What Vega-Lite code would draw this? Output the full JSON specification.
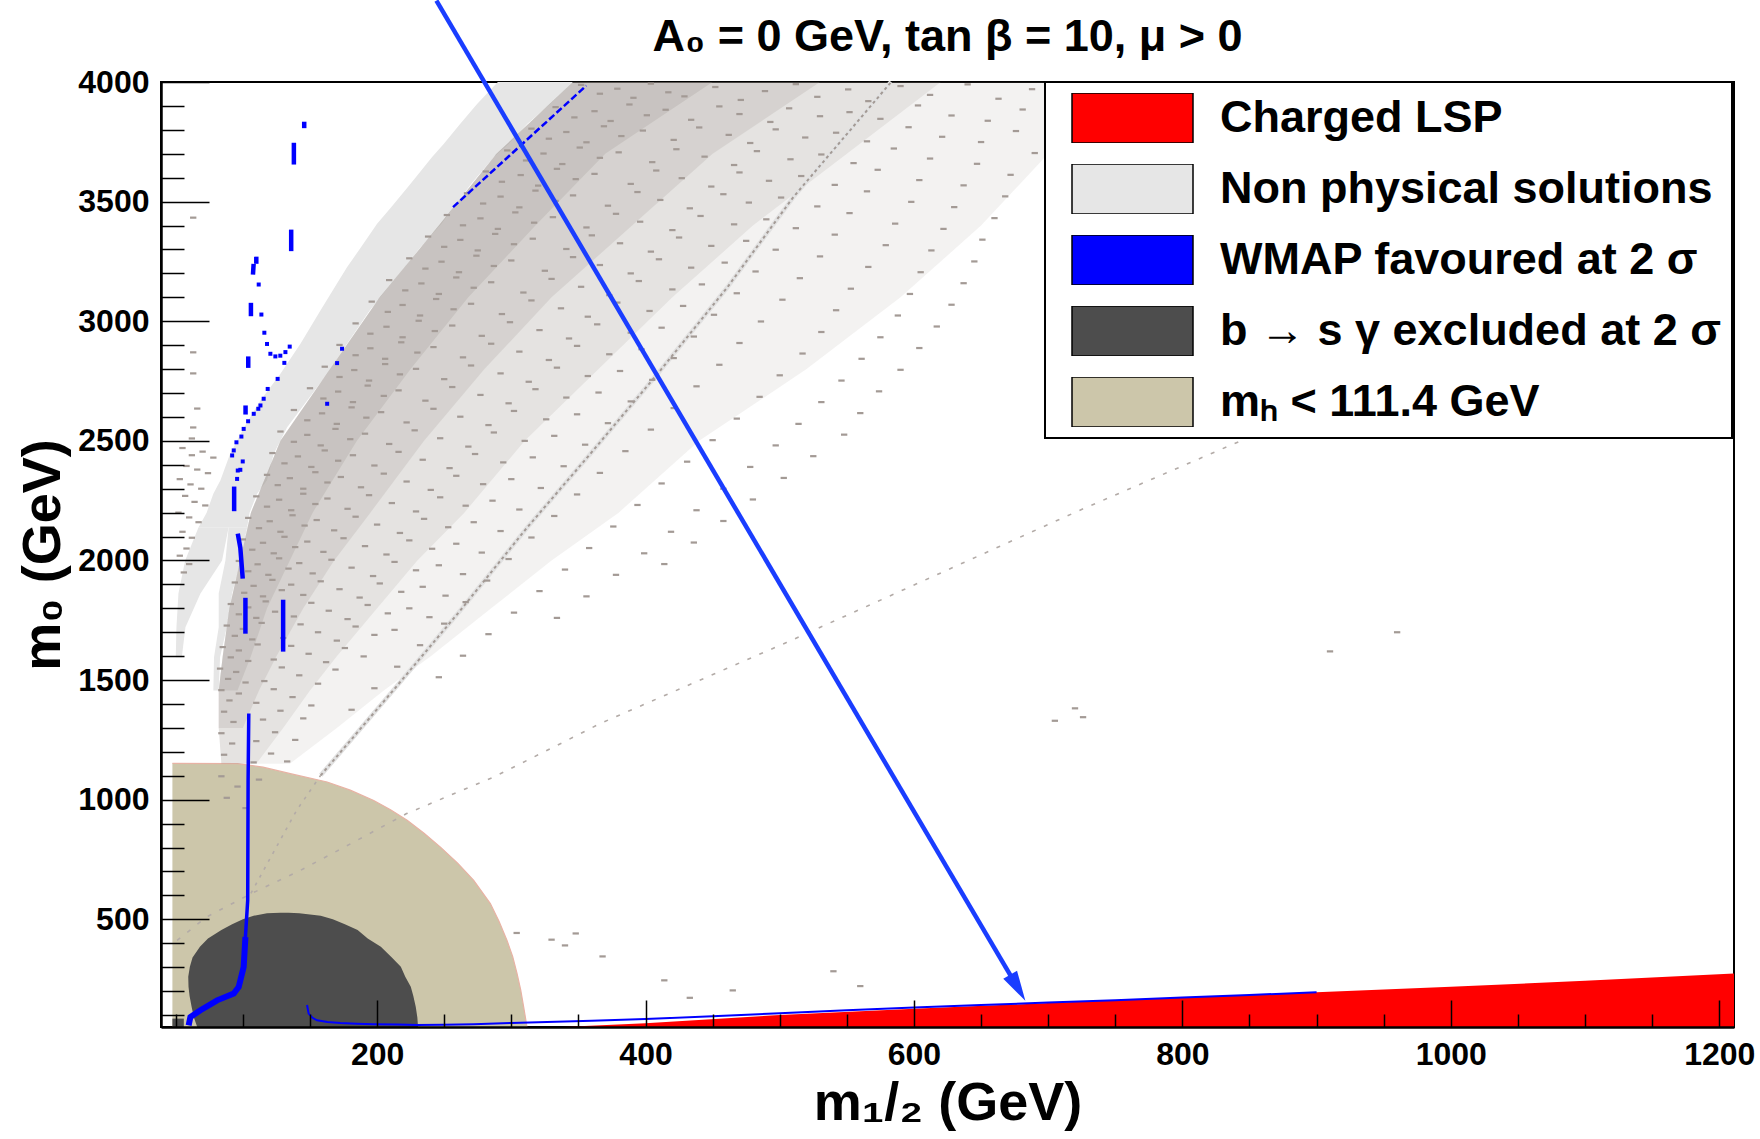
{
  "$schema": "https://vega.github.io/schema/vega-lite/v6.json",
  "width": 1573,
  "height": 945,
  "autosize": {"type": "none"},
  "padding": {"left": 161, "top": 82, "right": 26, "bottom": 112},
  "background": "white",
  "title": {
    "text": "A₀ = 0 GeV, tan β = 10, μ > 0",
    "font": "Liberation Sans",
    "fontSize": 45,
    "fontWeight": "bold",
    "color": "black",
    "anchor": "middle",
    "frame": "group",
    "baseline": "alphabetic",
    "offset": -104
  },
  "config": {
    "view": {"stroke": "black", "strokeWidth": 2},
    "axis": {"grid": false},
    "legend": {"strokeColor": "black", "strokeWidth": 2, "fillColor": "white"}
  },
  "datasets": {
    "higgs": [
      {"m12": 47.5, "m0": 1152}, {"m12": 96, "m0": 1151}, {"m12": 115, "m0": 1136}, {"m12": 135.4, "m0": 1109},
      {"m12": 162.8, "m0": 1074}, {"m12": 180, "m0": 1040}, {"m12": 197.5, "m0": 997}, {"m12": 210, "m0": 958},
      {"m12": 222.4, "m0": 914}, {"m12": 235, "m0": 860}, {"m12": 247.2, "m0": 802}, {"m12": 260, "m0": 735},
      {"m12": 272, "m0": 663}, {"m12": 284.4, "m0": 566}, {"m12": 291, "m0": 490}, {"m12": 296.8, "m0": 412},
      {"m12": 301, "m0": 345}, {"m12": 304.3, "m0": 273}, {"m12": 307, "m0": 205}, {"m12": 309.2, "m0": 134},
      {"m12": 311.7, "m0": 50}
    ],
    "bsg": [
      {"part": "main", "m0": 50, "m12": 66, "m12b": 230.5}, {"part": "main", "m0": 90, "m12": 63.5, "m12b": 230},
      {"part": "main", "m0": 135, "m12": 61.8, "m12b": 228.8}, {"part": "main", "m0": 180, "m12": 60.3, "m12b": 227},
      {"part": "main", "m0": 218, "m12": 59.5, "m12b": 225.1}, {"part": "main", "m0": 260, "m12": 59.3, "m12b": 221},
      {"part": "main", "m0": 302, "m12": 60.5, "m12b": 217.7}, {"part": "main", "m0": 340, "m12": 62.5, "m12b": 211},
      {"part": "main", "m0": 385, "m12": 68, "m12b": 202.8}, {"part": "main", "m0": 420, "m12": 74, "m12b": 193},
      {"part": "main", "m0": 455, "m12": 84, "m12b": 185.5}, {"part": "main", "m0": 480, "m12": 92, "m12b": 176},
      {"part": "main", "m0": 500, "m12": 100, "m12b": 167}, {"part": "main", "m0": 515, "m12": 108, "m12b": 158},
      {"part": "main", "m0": 525, "m12": 118, "m12b": 142}, {"part": "main", "m0": 528, "m12": 128, "m12b": 134},
      {"part": "corner", "m0": 50, "m12": 47.5, "m12b": 56}, {"part": "corner", "m0": 85, "m12": 47.5, "m12b": 56}
    ],
    "nonphys": [
      {"part": "main", "m0": 2139, "m12": 67, "m12b": 103.2}, {"part": "main", "m0": 2200, "m12": 73, "m12b": 105},
      {"part": "main", "m0": 2279, "m12": 78, "m12b": 110.6}, {"part": "main", "m0": 2335, "m12": 83.3, "m12b": 118},
      {"part": "main", "m0": 2446, "m12": 90.5, "m12b": 123}, {"part": "main", "m0": 2557, "m12": 101, "m12b": 133},
      {"part": "main", "m0": 2669, "m12": 113.1, "m12b": 147.9}, {"part": "main", "m0": 2780, "m12": 128, "m12b": 162.8},
      {"part": "main", "m0": 2906, "m12": 142.9, "m12b": 177.6}, {"part": "main", "m0": 3045, "m12": 157.8, "m12b": 194.5},
      {"part": "main", "m0": 3170, "m12": 171.5, "m12b": 212.4}, {"part": "main", "m0": 3226, "m12": 177.6, "m12b": 220.5},
      {"part": "main", "m0": 3309, "m12": 188, "m12b": 232.3}, {"part": "main", "m0": 3407, "m12": 200, "m12b": 248},
      {"part": "main", "m0": 3476, "m12": 210.5, "m12b": 257}, {"part": "main", "m0": 3574, "m12": 224.8, "m12b": 270},
      {"part": "main", "m0": 3686, "m12": 241, "m12b": 287}, {"part": "main", "m0": 3741, "m12": 249.6, "m12b": 298},
      {"part": "main", "m0": 3825, "m12": 262, "m12b": 312}, {"part": "main", "m0": 3908, "m12": 274.5, "m12b": 329},
      {"part": "main", "m0": 4000, "m12": 290, "m12b": 346},
      {"part": "left", "m0": 1596, "m12": 50, "m12b": 54.5}, {"part": "left", "m0": 1721, "m12": 50.5, "m12b": 57.2},
      {"part": "left", "m0": 1862, "m12": 52, "m12b": 68.4}, {"part": "left", "m0": 2000, "m12": 57, "m12b": 84.5},
      {"part": "left", "m0": 2139, "m12": 67, "m12b": 89.4},
      {"part": "right", "m0": 1457, "m12": 78, "m12b": 82}, {"part": "right", "m0": 1596, "m12": 78.5, "m12b": 83},
      {"part": "right", "m0": 1721, "m12": 82, "m12b": 88}, {"part": "right", "m0": 1862, "m12": 82, "m12b": 92},
      {"part": "right", "m0": 2000, "m12": 87, "m12b": 98.2}, {"part": "right", "m0": 2139, "m12": 89.4, "m12b": 103.2}
    ],
    "lsp": [
      {"m12": 338, "m0": 50}, {"m12": 400, "m0": 66}, {"m12": 500, "m0": 100}, {"m12": 600, "m0": 126},
      {"m12": 700, "m0": 150}, {"m12": 800, "m0": 173}, {"m12": 900, "m0": 195}, {"m12": 1000, "m0": 218},
      {"m12": 1100, "m0": 243}, {"m12": 1211, "m0": 274}
    ],
    "density": [
      {"zone": "A", "m0": 1457, "m12": 82, "m12b": 96}, {"zone": "A", "m0": 1600, "m12": 85, "m12b": 106},
      {"zone": "A", "m0": 1800, "m12": 90, "m12b": 118}, {"zone": "A", "m0": 2000, "m12": 98, "m12b": 135},
      {"zone": "A", "m0": 2200, "m12": 106, "m12b": 152}, {"zone": "A", "m0": 2500, "m12": 128, "m12b": 185},
      {"zone": "A", "m0": 2800, "m12": 165, "m12b": 225}, {"zone": "A", "m0": 3100, "m12": 202, "m12b": 268},
      {"zone": "A", "m0": 3400, "m12": 246, "m12b": 318}, {"zone": "A", "m0": 3700, "m12": 289, "m12b": 370},
      {"zone": "A", "m0": 4000, "m12": 346, "m12b": 450},
      {"zone": "B", "m0": 1300, "m12": 82, "m12b": 100}, {"zone": "B", "m0": 1457, "m12": 82, "m12b": 112},
      {"zone": "B", "m0": 1600, "m12": 85, "m12b": 125}, {"zone": "B", "m0": 1800, "m12": 90, "m12b": 145},
      {"zone": "B", "m0": 2000, "m12": 98, "m12b": 168}, {"zone": "B", "m0": 2200, "m12": 106, "m12b": 195},
      {"zone": "B", "m0": 2500, "m12": 128, "m12b": 235}, {"zone": "B", "m0": 2800, "m12": 165, "m12b": 280},
      {"zone": "B", "m0": 3100, "m12": 202, "m12b": 330}, {"zone": "B", "m0": 3400, "m12": 246, "m12b": 390},
      {"zone": "B", "m0": 3700, "m12": 289, "m12b": 450}, {"zone": "B", "m0": 4000, "m12": 346, "m12b": 530},
      {"zone": "C", "m0": 1150, "m12": 84, "m12b": 110}, {"zone": "C", "m0": 1300, "m12": 82, "m12b": 130},
      {"zone": "C", "m0": 1457, "m12": 82, "m12b": 150}, {"zone": "C", "m0": 1600, "m12": 85, "m12b": 170},
      {"zone": "C", "m0": 1800, "m12": 90, "m12b": 200}, {"zone": "C", "m0": 2000, "m12": 98, "m12b": 230},
      {"zone": "C", "m0": 2200, "m12": 106, "m12b": 265}, {"zone": "C", "m0": 2500, "m12": 128, "m12b": 310},
      {"zone": "C", "m0": 2800, "m12": 165, "m12b": 365}, {"zone": "C", "m0": 3100, "m12": 202, "m12b": 420},
      {"zone": "C", "m0": 3400, "m12": 246, "m12b": 480}, {"zone": "C", "m0": 3700, "m12": 289, "m12b": 550},
      {"zone": "C", "m0": 4000, "m12": 346, "m12b": 620},
      {"zone": "D", "m0": 1150, "m12": 84, "m12b": 135}, {"zone": "D", "m0": 1300, "m12": 82, "m12b": 170},
      {"zone": "D", "m0": 1457, "m12": 82, "m12b": 205}, {"zone": "D", "m0": 1600, "m12": 85, "m12b": 240},
      {"zone": "D", "m0": 1800, "m12": 90, "m12b": 285}, {"zone": "D", "m0": 2000, "m12": 98, "m12b": 330},
      {"zone": "D", "m0": 2200, "m12": 106, "m12b": 380}, {"zone": "D", "m0": 2500, "m12": 128, "m12b": 440},
      {"zone": "D", "m0": 2800, "m12": 165, "m12b": 520}, {"zone": "D", "m0": 3100, "m12": 202, "m12b": 590},
      {"zone": "D", "m0": 3400, "m12": 246, "m12b": 650}, {"zone": "D", "m0": 3700, "m12": 289, "m12b": 700},
      {"zone": "D", "m0": 4000, "m12": 346, "m12b": 700}
    ],
    "strip1": [
      {"m12": 158, "m0": 1102}, {"m12": 212, "m0": 1457}, {"m12": 262, "m0": 1791}, {"m12": 312, "m0": 2139},
      {"m12": 358, "m0": 2440}, {"m12": 411, "m0": 2794}, {"m12": 461, "m0": 3142}, {"m12": 510, "m0": 3518},
      {"m12": 583, "m0": 4000}
    ],
    "strip1Low": [
      {"m12": 106, "m0": 609}, {"m12": 140, "m0": 955}, {"m12": 158, "m0": 1102}
    ],
    "strip2": [
      {"m12": 51, "m0": 412}, {"m12": 73, "m0": 510}, {"m12": 106, "m0": 607}, {"m12": 143, "m0": 705},
      {"m12": 185, "m0": 830}, {"m12": 222, "m0": 942}, {"m12": 287, "m0": 1095}, {"m12": 341.5, "m0": 1248},
      {"m12": 366, "m0": 1318}, {"m12": 505, "m0": 1657}, {"m12": 722, "m0": 2206}, {"m12": 848, "m0": 2511}
    ],
    "speckles": [
      {"m12":352,"m0":3988},{"m12":366,"m0":3951},{"m12":379,"m0":3972},{"m12":391,"m0":3934},{"m12":404,"m0":3993},{"m12":417,"m0":3957},{"m12":429,"m0":3940},{"m12":452,"m0":3979},{"m12":471,"m0":3925},{"m12":489,"m0":3962},{"m12":512,"m0":3991},{"m12":528,"m0":3938},{"m12":551,"m0":3969},{"m12":566,"m0":3920},{"m12":590,"m0":3983},{"m12":612,"m0":3946},{"m12":640,"m0":3990},{"m12":663,"m0":3930},{"m12":688,"m0":3970},
      {"m12":333,"m0":3895},{"m12":347,"m0":3852},{"m12":362,"m0":3878},{"m12":374,"m0":3837},{"m12":388,"m0":3906},{"m12":401,"m0":3861},{"m12":415,"m0":3884},{"m12":434,"m0":3842},{"m12":455,"m0":3898},{"m12":470,"m0":3866},{"m12":493,"m0":3833},{"m12":507,"m0":3890},{"m12":530,"m0":3857},{"m12":552,"m0":3874},{"m12":575,"m0":3846},{"m12":603,"m0":3902},{"m12":628,"m0":3860},{"m12":655,"m0":3838},{"m12":681,"m0":3885},
      {"m12":315,"m0":3805},{"m12":328,"m0":3763},{"m12":341,"m0":3791},{"m12":356,"m0":3748},{"m12":369,"m0":3815},{"m12":382,"m0":3774},{"m12":398,"m0":3797},{"m12":421,"m0":3758},{"m12":440,"m0":3810},{"m12":462,"m0":3779},{"m12":478,"m0":3745},{"m12":497,"m0":3802},{"m12":519,"m0":3768},{"m12":542,"m0":3788},{"m12":565,"m0":3752},{"m12":596,"m0":3811},{"m12":621,"m0":3771},{"m12":650,"m0":3749},{"m12":676,"m0":3795},
      {"m12":297,"m0":3714},{"m12":311,"m0":3672},{"m12":324,"m0":3701},{"m12":338,"m0":3657},{"m12":351,"m0":3726},{"m12":366,"m0":3683},{"m12":380,"m0":3706},{"m12":405,"m0":3665},{"m12":423,"m0":3719},{"m12":444,"m0":3688},{"m12":466,"m0":3653},{"m12":483,"m0":3711},{"m12":508,"m0":3677},{"m12":531,"m0":3697},{"m12":555,"m0":3661},{"m12":585,"m0":3722},{"m12":612,"m0":3680},{"m12":647,"m0":3658},{"m12":690,"m0":3703},
      {"m12":281,"m0":3626},{"m12":293,"m0":3583},{"m12":307,"m0":3611},{"m12":320,"m0":3567},{"m12":334,"m0":3637},{"m12":348,"m0":3594},{"m12":362,"m0":3616},{"m12":389,"m0":3574},{"m12":408,"m0":3630},{"m12":427,"m0":3598},{"m12":449,"m0":3563},{"m12":470,"m0":3622},{"m12":492,"m0":3587},{"m12":516,"m0":3607},{"m12":541,"m0":3570},{"m12":573,"m0":3633},{"m12":604,"m0":3590},{"m12":637,"m0":3568},{"m12":672,"m0":3612},
      {"m12":267,"m0":3535},{"m12":279,"m0":3492},{"m12":292,"m0":3521},{"m12":306,"m0":3476},{"m12":318,"m0":3546},{"m12":333,"m0":3503},{"m12":346,"m0":3526},{"m12":372,"m0":3483},{"m12":394,"m0":3540},{"m12":411,"m0":3507},{"m12":433,"m0":3472},{"m12":458,"m0":3531},{"m12":477,"m0":3496},{"m12":501,"m0":3517},{"m12":528,"m0":3480},{"m12":565,"m0":3543},{"m12":598,"m0":3499},{"m12":630,"m0":3477},{"m12":668,"m0":3522},
      {"m12":252,"m0":3444},{"m12":264,"m0":3401},{"m12":277,"m0":3430},{"m12":290,"m0":3386},{"m12":303,"m0":3455},{"m12":317,"m0":3412},{"m12":331,"m0":3435},{"m12":356,"m0":3392},{"m12":378,"m0":3449},{"m12":396,"m0":3416},{"m12":420,"m0":3381},{"m12":441,"m0":3440},{"m12":466,"m0":3405},{"m12":490,"m0":3426},{"m12":512,"m0":3389},{"m12":552,"m0":3452},{"m12":586,"m0":3408},{"m12":622,"m0":3386},{"m12":660,"m0":3431},
      {"m12":238,"m0":3354},{"m12":250,"m0":3311},{"m12":262,"m0":3340},{"m12":275,"m0":3296},{"m12":288,"m0":3365},{"m12":302,"m0":3322},{"m12":316,"m0":3345},{"m12":341,"m0":3302},{"m12":360,"m0":3359},{"m12":381,"m0":3326},{"m12":404,"m0":3291},{"m12":425,"m0":3350},{"m12":449,"m0":3315},{"m12":475,"m0":3336},{"m12":497,"m0":3299},{"m12":541,"m0":3362},{"m12":579,"m0":3318},{"m12":613,"m0":3296},{"m12":651,"m0":3341},
      {"m12":224,"m0":3263},{"m12":236,"m0":3220},{"m12":248,"m0":3249},{"m12":261,"m0":3205},{"m12":274,"m0":3274},{"m12":287,"m0":3231},{"m12":300,"m0":3254},{"m12":325,"m0":3211},{"m12":346,"m0":3268},{"m12":366,"m0":3235},{"m12":389,"m0":3200},{"m12":410,"m0":3259},{"m12":434,"m0":3224},{"m12":459,"m0":3245},{"m12":482,"m0":3208},{"m12":530,"m0":3271},{"m12":566,"m0":3227},{"m12":605,"m0":3205},{"m12":645,"m0":3250},
      {"m12":209,"m0":3172},{"m12":221,"m0":3129},{"m12":233,"m0":3158},{"m12":246,"m0":3114},{"m12":259,"m0":3183},{"m12":272,"m0":3140},{"m12":285,"m0":3163},{"m12":309,"m0":3120},{"m12":330,"m0":3177},{"m12":352,"m0":3144},{"m12":373,"m0":3109},{"m12":395,"m0":3168},{"m12":420,"m0":3133},{"m12":442,"m0":3154},{"m12":468,"m0":3117},{"m12":515,"m0":3180},{"m12":553,"m0":3136},{"m12":597,"m0":3114},{"m12":637,"m0":3159},
      {"m12":196,"m0":3082},{"m12":208,"m0":3039},{"m12":219,"m0":3068},{"m12":232,"m0":3024},{"m12":244,"m0":3093},{"m12":257,"m0":3050},{"m12":270,"m0":3073},{"m12":293,"m0":3030},{"m12":315,"m0":3087},{"m12":337,"m0":3054},{"m12":357,"m0":3019},{"m12":379,"m0":3078},{"m12":403,"m0":3043},{"m12":428,"m0":3064},{"m12":451,"m0":3027},{"m12":502,"m0":3090},{"m12":542,"m0":3046},{"m12":588,"m0":3024},{"m12":628,"m0":3069},
      {"m12":184,"m0":2991},{"m12":195,"m0":2948},{"m12":207,"m0":2977},{"m12":219,"m0":2933},{"m12":231,"m0":3002},{"m12":243,"m0":2959},{"m12":256,"m0":2982},{"m12":278,"m0":2939},{"m12":299,"m0":2996},{"m12":321,"m0":2963},{"m12":343,"m0":2928},{"m12":364,"m0":2987},{"m12":389,"m0":2952},{"m12":412,"m0":2973},{"m12":436,"m0":2936},{"m12":486,"m0":2999},{"m12":531,"m0":2955},{"m12":575,"m0":2933},{"m12":617,"m0":2978},
      {"m12":172,"m0":2901},{"m12":184,"m0":2858},{"m12":195,"m0":2887},{"m12":206,"m0":2843},{"m12":218,"m0":2912},{"m12":230,"m0":2869},{"m12":242,"m0":2892},{"m12":264,"m0":2849},{"m12":285,"m0":2906},{"m12":306,"m0":2873},{"m12":328,"m0":2838},{"m12":349,"m0":2897},{"m12":373,"m0":2862},{"m12":397,"m0":2883},{"m12":421,"m0":2846},{"m12":470,"m0":2909},{"m12":517,"m0":2865},{"m12":561,"m0":2843},{"m12":604,"m0":2888},
      {"m12":161,"m0":2810},{"m12":172,"m0":2767},{"m12":183,"m0":2796},{"m12":194,"m0":2752},{"m12":206,"m0":2821},{"m12":217,"m0":2778},{"m12":229,"m0":2801},{"m12":250,"m0":2758},{"m12":270,"m0":2815},{"m12":292,"m0":2782},{"m12":313,"m0":2747},{"m12":334,"m0":2806},{"m12":357,"m0":2771},{"m12":381,"m0":2792},{"m12":405,"m0":2755},{"m12":455,"m0":2818},{"m12":500,"m0":2774},{"m12":546,"m0":2752},{"m12":590,"m0":2797},
      {"m12":150,"m0":2720},{"m12":160,"m0":2677},{"m12":171,"m0":2706},{"m12":182,"m0":2662},{"m12":193,"m0":2731},{"m12":205,"m0":2688},{"m12":216,"m0":2711},{"m12":236,"m0":2668},{"m12":256,"m0":2725},{"m12":277,"m0":2692},{"m12":298,"m0":2657},{"m12":318,"m0":2716},{"m12":341,"m0":2681},{"m12":365,"m0":2702},{"m12":389,"m0":2665},{"m12":438,"m0":2728},{"m12":485,"m0":2684},{"m12":531,"m0":2662},{"m12":574,"m0":2707},
      {"m12":138,"m0":2629},{"m12":148,"m0":2586},{"m12":159,"m0":2615},{"m12":170,"m0":2571},{"m12":181,"m0":2640},{"m12":192,"m0":2597},{"m12":203,"m0":2620},{"m12":222,"m0":2577},{"m12":242,"m0":2634},{"m12":262,"m0":2601},{"m12":283,"m0":2566},{"m12":302,"m0":2625},{"m12":326,"m0":2590},{"m12":349,"m0":2611},{"m12":372,"m0":2574},{"m12":421,"m0":2637},{"m12":468,"m0":2593},{"m12":514,"m0":2571},{"m12":560,"m0":2616},
      {"m12":128,"m0":2539},{"m12":138,"m0":2496},{"m12":148,"m0":2525},{"m12":158,"m0":2481},{"m12":169,"m0":2550},{"m12":180,"m0":2507},{"m12":191,"m0":2530},{"m12":209,"m0":2487},{"m12":228,"m0":2544},{"m12":247,"m0":2511},{"m12":268,"m0":2476},{"m12":287,"m0":2535},{"m12":310,"m0":2500},{"m12":332,"m0":2521},{"m12":355,"m0":2484},{"m12":404,"m0":2547},{"m12":450,"m0":2503},{"m12":497,"m0":2481},{"m12":548,"m0":2526},
      {"m12":122,"m0":2449},{"m12":131,"m0":2406},{"m12":141,"m0":2435},{"m12":151,"m0":2391},{"m12":161,"m0":2460},{"m12":171,"m0":2417},{"m12":182,"m0":2440},{"m12":198,"m0":2397},{"m12":216,"m0":2454},{"m12":234,"m0":2421},{"m12":254,"m0":2386},{"m12":273,"m0":2445},{"m12":294,"m0":2410},{"m12":316,"m0":2431},{"m12":339,"m0":2394},{"m12":385,"m0":2457},{"m12":431,"m0":2413},{"m12":478,"m0":2391},{"m12":525,"m0":2436},
      {"m12":118,"m0":2358},{"m12":126,"m0":2315},{"m12":135,"m0":2344},{"m12":145,"m0":2300},{"m12":154,"m0":2369},{"m12":163,"m0":2326},{"m12":173,"m0":2349},{"m12":188,"m0":2306},{"m12":205,"m0":2363},{"m12":222,"m0":2330},{"m12":240,"m0":2295},{"m12":259,"m0":2354},{"m12":279,"m0":2319},{"m12":300,"m0":2340},{"m12":322,"m0":2303},{"m12":366,"m0":2366},{"m12":412,"m0":2322},{"m12":458,"m0":2300},{"m12":503,"m0":2345},
      {"m12":110,"m0":2268},{"m12":118,"m0":2225},{"m12":127,"m0":2254},{"m12":136,"m0":2210},{"m12":145,"m0":2279},{"m12":154,"m0":2236},{"m12":163,"m0":2259},{"m12":178,"m0":2216},{"m12":194,"m0":2273},{"m12":211,"m0":2240},{"m12":229,"m0":2205},{"m12":247,"m0":2264},{"m12":266,"m0":2229},{"m12":286,"m0":2250},{"m12":306,"m0":2213},{"m12":349,"m0":2276},{"m12":394,"m0":2232},{"m12":438,"m0":2210},{"m12":480,"m0":2255},
      {"m12":104,"m0":2178},{"m12":112,"m0":2135},{"m12":120,"m0":2164},{"m12":128,"m0":2120},{"m12":137,"m0":2189},{"m12":146,"m0":2146},{"m12":155,"m0":2169},{"m12":168,"m0":2126},{"m12":184,"m0":2183},{"m12":200,"m0":2150},{"m12":217,"m0":2115},{"m12":235,"m0":2174},{"m12":253,"m0":2139},{"m12":272,"m0":2160},{"m12":292,"m0":2123},{"m12":332,"m0":2186},{"m12":376,"m0":2142},{"m12":419,"m0":2120},{"m12":458,"m0":2165},
      {"m12":100,"m0":2088},{"m12":107,"m0":2045},{"m12":115,"m0":2074},{"m12":123,"m0":2030},{"m12":131,"m0":2099},{"m12":139,"m0":2056},{"m12":148,"m0":2079},{"m12":160,"m0":2036},{"m12":175,"m0":2093},{"m12":191,"m0":2060},{"m12":207,"m0":2025},{"m12":224,"m0":2084},{"m12":241,"m0":2049},{"m12":259,"m0":2070},{"m12":278,"m0":2033},{"m12":315,"m0":2096},{"m12":358,"m0":2052},{"m12":399,"m0":2030},{"m12":436,"m0":2075},
      {"m12":97,"m0":1998},{"m12":104,"m0":1955},{"m12":111,"m0":1984},{"m12":119,"m0":1940},{"m12":127,"m0":2009},{"m12":134,"m0":1966},{"m12":142,"m0":1989},{"m12":152,"m0":1946},{"m12":166,"m0":2003},{"m12":181,"m0":1970},{"m12":197,"m0":1935},{"m12":213,"m0":1994},{"m12":229,"m0":1959},{"m12":246,"m0":1980},{"m12":264,"m0":1943},{"m12":298,"m0":2006},{"m12":340,"m0":1962},{"m12":378,"m0":1940},{"m12":414,"m0":1985},
      {"m12":94,"m0":1908},{"m12":101,"m0":1865},{"m12":108,"m0":1894},{"m12":115,"m0":1850},{"m12":122,"m0":1919},{"m12":129,"m0":1876},{"m12":136,"m0":1899},{"m12":145,"m0":1856},{"m12":158,"m0":1913},{"m12":172,"m0":1880},{"m12":187,"m0":1845},{"m12":202,"m0":1904},{"m12":218,"m0":1869},{"m12":234,"m0":1890},{"m12":251,"m0":1853},{"m12":282,"m0":1916},{"m12":321,"m0":1872},{"m12":356,"m0":1850},
      {"m12":91,"m0":1818},{"m12":97,"m0":1775},{"m12":104,"m0":1804},{"m12":110,"m0":1760},{"m12":117,"m0":1829},{"m12":124,"m0":1786},{"m12":138,"m0":1766},{"m12":151,"m0":1823},{"m12":164,"m0":1790},{"m12":178,"m0":1755},{"m12":193,"m0":1814},{"m12":208,"m0":1779},{"m12":224,"m0":1800},{"m12":239,"m0":1763},{"m12":266,"m0":1826},{"m12":302,"m0":1782},{"m12":334,"m0":1760},
      {"m12":88,"m0":1728},{"m12":94,"m0":1685},{"m12":100,"m0":1714},{"m12":107,"m0":1670},{"m12":114,"m0":1739},{"m12":130,"m0":1676},{"m12":143,"m0":1733},{"m12":156,"m0":1700},{"m12":170,"m0":1665},{"m12":184,"m0":1724},{"m12":198,"m0":1689},{"m12":213,"m0":1710},{"m12":250,"m0":1736},{"m12":283,"m0":1692},
      {"m12":85,"m0":1638},{"m12":91,"m0":1595},{"m12":97,"m0":1624},{"m12":104,"m0":1580},{"m12":111,"m0":1649},{"m12":123,"m0":1586},{"m12":136,"m0":1643},{"m12":149,"m0":1610},{"m12":162,"m0":1575},{"m12":176,"m0":1634},{"m12":190,"m0":1599},{"m12":232,"m0":1646},{"m12":264,"m0":1602},
      {"m12":83,"m0":1548},{"m12":89,"m0":1505},{"m12":95,"m0":1534},{"m12":102,"m0":1490},{"m12":116,"m0":1496},{"m12":129,"m0":1553},{"m12":142,"m0":1520},{"m12":156,"m0":1485},{"m12":169,"m0":1544},{"m12":215,"m0":1556},{"m12":246,"m0":1512},
      {"m12":84,"m0":1458},{"m12":90,"m0":1415},{"m12":97,"m0":1444},{"m12":110,"m0":1405},{"m12":123,"m0":1462},{"m12":137,"m0":1429},{"m12":151,"m0":1394},{"m12":198,"m0":1466},
      {"m12":86,"m0":1368},{"m12":93,"m0":1325},{"m12":115,"m0":1335},{"m12":128,"m0":1372},{"m12":145,"m0":1340},{"m12":181,"m0":1376},
      {"m12":84,"m0":1278},{"m12":92,"m0":1235},{"m12":110,"m0":1245},{"m12":124,"m0":1282},{"m12":139,"m0":1250},
      {"m12":86,"m0":1188},{"m12":108,"m0":1156},{"m12":121,"m0":1193},{"m12":133,"m0":1160},
      {"m12":84,"m0":1098},{"m12":96,"m0":1055},{"m12":112,"m0":1084},{"m12":88,"m0":1008},{"m12":102,"m0":965},
      {"m12":55,"m0":2470},{"m12":62,"m0":2440},{"m12":70,"m0":2455},{"m12":78,"m0":2430},{"m12":58,"m0":2395},{"m12":66,"m0":2380},{"m12":74,"m0":2365},{"m12":53,"m0":2340},{"m12":61,"m0":2318},{"m12":69,"m0":2300},{"m12":57,"m0":2270},{"m12":64,"m0":2245},{"m12":72,"m0":2230},{"m12":52,"m0":2200},{"m12":60,"m0":2180},{"m12":67,"m0":2160},{"m12":55,"m0":2120},{"m12":62,"m0":2095},{"m12":58,"m0":2050},{"m12":53,"m0":2020},{"m12":60,"m0":1985},{"m12":56,"m0":1950},{"m12":63,"m0":2870},{"m12":63,"m0":2782},{"m12":66,"m0":2635},{"m12":63,"m0":2556},{"m12":63,"m0":3433},{"m12":62,"m0":2510},
      {"m12":910,"m0":1620},{"m12":960,"m0":1700},{"m12":720,"m0":1382},{"m12":726,"m0":1345},{"m12":705,"m0":1330},{"m12":304,"m0":443},{"m12":348,"m0":441},{"m12":330,"m0":415},{"m12":340,"m0":391},{"m12":368,"m0":345},{"m12":414,"m0":245},{"m12":465,"m0":203},{"m12":433,"m0":172},{"m12":540,"m0":283},{"m12":560,"m0":221}
    ],
    "wmapCoann": [
      {"m12": 147.8, "m0": 142}, {"m12": 149, "m0": 106}, {"m12": 152, "m0": 88}, {"m12": 155.3, "m0": 78},
      {"m12": 163, "m0": 71}, {"m12": 172.7, "m0": 67}, {"m12": 185, "m0": 64}, {"m12": 197.5, "m0": 62},
      {"m12": 215, "m0": 60}, {"m12": 229.8, "m0": 58}, {"m12": 250, "m0": 59}, {"m12": 272, "m0": 61},
      {"m12": 300, "m0": 67}, {"m12": 360, "m0": 76}, {"m12": 400, "m0": 83}, {"m12": 450, "m0": 95},
      {"m12": 500, "m0": 107}, {"m12": 550, "m0": 120}, {"m12": 600, "m0": 132}, {"m12": 650, "m0": 142},
      {"m12": 700, "m0": 152}, {"m12": 750, "m0": 162}, {"m12": 800, "m0": 173}, {"m12": 850, "m0": 184},
      {"m12": 900, "m0": 195}
    ],
    "wmapBend": [
      {"m12": 59.6, "m0": 57}, {"m12": 60.9, "m0": 92}, {"m12": 68.4, "m0": 120}, {"m12": 80.8, "m0": 161.5},
      {"m12": 93.2, "m0": 189.5}, {"m12": 96.9, "m0": 217}, {"m12": 100.6, "m0": 300.7}, {"m12": 101.9, "m0": 426}
    ],
    "wmapVertical": [
      {"m12": 101.9, "m0": 426}, {"m12": 103.6, "m0": 579}, {"m12": 103.9, "m0": 1081}, {"m12": 104.4, "m0": 1360}
    ],
    "wmapDashes": [
      {"seg": "a", "m12": 145.7, "m0": 3807}, {"seg": "a", "m12": 145.7, "m0": 3834},
      {"seg": "b", "m12": 138, "m0": 3655}, {"seg": "b", "m12": 138, "m0": 3746},
      {"seg": "c", "m12": 136, "m0": 3293}, {"seg": "c", "m12": 136, "m0": 3383},
      {"seg": "d", "m12": 110, "m0": 3240}, {"seg": "d", "m12": 110, "m0": 3270},
      {"seg": "e", "m12": 107.5, "m0": 3195}, {"seg": "e", "m12": 108, "m0": 3240},
      {"seg": "f", "m12": 106, "m0": 3021}, {"seg": "f", "m12": 106, "m0": 3077},
      {"seg": "g", "m12": 104, "m0": 2805}, {"seg": "g", "m12": 104, "m0": 2853},
      {"seg": "h", "m12": 102, "m0": 2610}, {"seg": "h", "m12": 102, "m0": 2648},
      {"seg": "i", "m12": 93.5, "m0": 2206}, {"seg": "i", "m12": 93.5, "m0": 2309},
      {"seg": "j", "m12": 96.2, "m0": 2112}, {"seg": "j", "m12": 98.1, "m0": 2053}, {"seg": "j", "m12": 99.9, "m0": 1924},
      {"seg": "k", "m12": 101.9, "m0": 1694}, {"seg": "k", "m12": 101.9, "m0": 1844},
      {"seg": "l", "m12": 130, "m0": 1619}, {"seg": "l", "m12": 130, "m0": 1836}
    ],
    "wmapDots": [
      {"m12": 111.8, "m0": 3153.5}, {"m12": 113.8, "m0": 3028}, {"m12": 116, "m0": 2952}, {"m12": 118, "m0": 2905},
      {"m12": 120.5, "m0": 2864}, {"m12": 124.2, "m0": 2853}, {"m12": 127.9, "m0": 2856}, {"m12": 131.7, "m0": 2871},
      {"m12": 134.9, "m0": 2894}, {"m12": 130.9, "m0": 2826}, {"m12": 125.9, "m0": 2759}, {"m12": 118.5, "m0": 2717},
      {"m12": 115.5, "m0": 2676}, {"m12": 113.1, "m0": 2648}, {"m12": 111.5, "m0": 2634}, {"m12": 108.1, "m0": 2613},
      {"m12": 103.9, "m0": 2582}, {"m12": 100.6, "m0": 2550}, {"m12": 98.9, "m0": 2518}, {"m12": 95.2, "m0": 2494},
      {"m12": 93.2, "m0": 2460}, {"m12": 92, "m0": 2439}, {"m12": 96.2, "m0": 2376}, {"m12": 95.7, "m0": 2341},
      {"m12": 99.9, "m0": 2414}, {"m12": 98.1, "m0": 2379}, {"m12": 173.9, "m0": 2885}, {"m12": 170.2, "m0": 2825},
      {"m12": 162.8, "m0": 2655}
    ],
    "wmapFocus": [
      {"m12": 256.6, "m0": 3477}, {"m12": 355.9, "m0": 3985}
    ],
    "arrow": [
      {"m12": 244.2, "m0": 4340}, {"m12": 676.2, "m0": 224.8}
    ],
    "arrowTip": [
      {"m12": 683, "m0": 160}
    ]
  },
  "encoding": {
    "x": {"field": "m12", "type": "quantitative", "scale": {"domain": [39, 1211], "nice": false, "zero": false}, "axis": null},
    "y": {"field": "m0", "type": "quantitative", "scale": {"domain": [50, 4000], "nice": false, "zero": false}, "axis": null}
  },
  "resolve": {"axis": {"x": "independent", "y": "independent"}},
  "layer": [
    {
      "data": {"name": "higgs"},
      "mark": {"type": "area"},
      "encoding": {
        "x": {
          "field": "m12", "type": "quantitative",
          "scale": {"domain": [39, 1211], "nice": false, "zero": false},
          "axis": {
            "orient": "bottom", "values": [200, 400, 600, 800, 1000, 1200], "format": "d",
            "ticks": false, "tickSize": 0, "domain": true, "domainColor": "black", "domainWidth": 2.5,
            "labelFont": "Liberation Sans", "labelFontWeight": "bold", "labelFontSize": 32, "labelColor": "black",
            "labelPadding": 12, "labelOverlap": false, "labelFlush": false,
            "title": "m₁/₂ (GeV)", "titleFont": "Liberation Sans", "titleFontWeight": "bold", "titleFontSize": 54,
            "titleColor": "black", "titlePadding": 49, "titleBaseline": "alphabetic", "zindex": 2
          }
        },
        "y": {
          "field": "m0", "type": "quantitative",
          "scale": {"domain": [50, 4000], "nice": false, "zero": false},
          "axis": {
            "orient": "left", "values": [500, 1000, 1500, 2000, 2500, 3000, 3500, 4000], "format": "d",
            "ticks": false, "tickSize": 0, "domain": true, "domainColor": "black", "domainWidth": 2.5,
            "labelFont": "Liberation Sans", "labelFontWeight": "bold", "labelFontSize": 32, "labelColor": "black",
            "labelPadding": 12, "labelOverlap": false, "labelFlush": false,
            "title": "m₀ (GeV)", "titleFont": "Liberation Sans", "titleFontWeight": "bold", "titleFontSize": 54,
            "titleColor": "black", "titlePadding": 18, "titleBaseline": "alphabetic", "zindex": 2
          }
        },
        "y2": {"datum": 50},
        "fill": {
          "datum": "mₕ < 111.4 GeV", "type": "nominal",
          "scale": {
            "domain": ["Charged LSP", "Non physical solutions", "WMAP favoured at 2 σ", "b → s γ excluded at 2 σ", "mₕ < 111.4 GeV"],
            "range": ["#ff0000", "#e6e6e6", "#0000ff", "#4d4d4d", "#ccc6aa"]
          },
          "legend": {
            "orient": "none", "legendX": 884, "legendY": 0, "title": null, "direction": "vertical",
            "symbolType": "M-1,-0.413H1V0.413H-1Z", "symbolSize": 14641, "clipHeight": 50, "rowPadding": 21,
            "padding": 11, "symbolOffset": 15, "labelOffset": 26,
            "labelFont": "Liberation Sans", "labelFontWeight": "bold", "labelFontSize": 45, "labelColor": "black",
            "labelLimit": 900, "symbolStrokeColor": "black", "symbolStrokeWidth": 1.5, "symbolOpacity": 1,
            "strokeColor": "black", "fillColor": "white"
          }
        }
      }
    },
    {
      "data": {"name": "higgs"},
      "mark": {"type": "line", "color": "#e8b2a4", "strokeWidth": 1.2},
      "encoding": {}
    },
    {
      "data": {"name": "bsg"},
      "mark": {"type": "area", "orient": "horizontal"},
      "encoding": {
        "x": {
          "field": "m12", "type": "quantitative", "stack": null,
          "scale": {"domain": [39, 1211], "nice": false, "zero": false},
          "axis": {
            "orient": "bottom", "values": [200, 400, 600, 800, 1000, 1200], "labels": false, "domain": false,
            "ticks": true, "tickSize": -27, "tickWidth": 1.5, "tickColor": "black", "title": null, "zindex": 2
          }
        },
        "x2": {"field": "m12b"},
        "y": {
          "field": "m0", "type": "quantitative",
          "scale": {"domain": [50, 4000], "nice": false, "zero": false},
          "axis": {
            "orient": "left", "values": [500, 1000, 1500, 2000, 2500, 3000, 3500, 4000], "labels": false, "domain": false,
            "ticks": true, "tickSize": -48, "tickWidth": 1.5, "tickColor": "black", "title": null, "zindex": 2
          }
        },
        "detail": {"field": "part"},
        "fill": {"datum": "b → s γ excluded at 2 σ", "type": "nominal"}
      }
    },
    {
      "data": {"name": "nonphys"},
      "mark": {"type": "area", "orient": "horizontal"},
      "encoding": {
        "x": {
          "field": "m12", "type": "quantitative", "stack": null,
          "scale": {"domain": [39, 1211], "nice": false, "zero": false},
          "axis": {
            "orient": "bottom",
            "values": [50, 100, 150, 250, 300, 350, 450, 500, 550, 650, 700, 750, 850, 900, 950, 1050, 1100, 1150],
            "labels": false, "domain": false, "ticks": true, "tickSize": -13, "tickWidth": 1.5, "tickColor": "black",
            "title": null, "zindex": 2
          }
        },
        "x2": {"field": "m12b"},
        "y": {
          "field": "m0", "type": "quantitative",
          "scale": {"domain": [50, 4000], "nice": false, "zero": false},
          "axis": {
            "orient": "left",
            "values": [100, 200, 300, 400, 600, 700, 800, 900, 1100, 1200, 1300, 1400, 1600, 1700, 1800, 1900, 2100, 2200, 2300, 2400, 2600, 2700, 2800, 2900, 3100, 3200, 3300, 3400, 3600, 3700, 3800, 3900],
            "labels": false, "domain": false, "ticks": true, "tickSize": -23, "tickWidth": 1.5, "tickColor": "black",
            "title": null, "zindex": 2
          }
        },
        "detail": {"field": "part"},
        "fill": {"datum": "Non physical solutions", "type": "nominal"}
      }
    },
    {
      "data": {"name": "density"},
      "mark": {"type": "area", "orient": "horizontal", "color": "#a39a95"},
      "encoding": {
        "x": {"field": "m12", "type": "quantitative", "stack": null, "scale": {"domain": [39, 1211], "nice": false, "zero": false}, "axis": null},
        "x2": {"field": "m12b"},
        "detail": {"field": "zone"},
        "opacity": {"field": "zone", "type": "nominal", "scale": {"domain": ["A", "B", "C", "D"], "range": [0.26, 0.13, 0.08, 0.05]}, "legend": null}
      }
    },
    {
      "data": {"name": "lsp"},
      "mark": {"type": "area"},
      "encoding": {
        "y2": {"datum": 50},
        "fill": {"datum": "Charged LSP", "type": "nominal"}
      }
    },
    {
      "data": {"name": "strip1"},
      "mark": {"type": "line", "color": "#e2e2e2", "strokeWidth": 4.5},
      "encoding": {}
    },
    {
      "data": {"name": "speckles"},
      "mark": {"type": "point", "shape": "M-1,-0.35H1V0.35H-1Z", "size": 40, "filled": true, "color": "#a39a95", "opacity": 1, "strokeWidth": 0},
      "encoding": {}
    },
    {
      "data": {"name": "strip1"},
      "mark": {"type": "line", "color": "#a39a95", "strokeWidth": 2, "strokeDash": [3, 3]},
      "encoding": {}
    },
    {
      "data": {"name": "strip1Low"},
      "mark": {"type": "line", "color": "#b3aba7", "strokeWidth": 1.6, "strokeDash": [3, 6]},
      "encoding": {}
    },
    {
      "data": {"name": "strip2"},
      "mark": {"type": "line", "color": "#b3aba7", "strokeWidth": 1.6, "strokeDash": [4, 9]},
      "encoding": {}
    },
    {
      "data": {"name": "wmapCoann"},
      "mark": {"type": "line", "color": "#0000ff", "strokeWidth": 2},
      "encoding": {}
    },
    {
      "data": {"name": "wmapBend"},
      "mark": {"type": "line", "color": "#0000ff", "strokeWidth": 6},
      "encoding": {}
    },
    {
      "data": {"name": "wmapVertical"},
      "mark": {"type": "line", "color": "#0000ff", "strokeWidth": 3.5},
      "encoding": {}
    },
    {
      "data": {"name": "wmapDashes"},
      "mark": {"type": "line", "color": "#0000ff", "strokeWidth": 4.5, "strokeCap": "butt"},
      "encoding": {"detail": {"field": "seg"}}
    },
    {
      "data": {"name": "wmapFocus"},
      "mark": {"type": "line", "color": "#0000ff", "strokeWidth": 2.5, "strokeDash": [7, 3]},
      "encoding": {}
    },
    {
      "data": {"name": "wmapDots"},
      "mark": {"type": "point", "shape": "square", "size": 16, "filled": true, "color": "#0000ff", "opacity": 1, "strokeWidth": 0},
      "encoding": {}
    },
    {
      "data": {"name": "arrow"},
      "mark": {"type": "line", "color": "#1a3dff", "strokeWidth": 4.5, "strokeCap": "butt"},
      "encoding": {}
    },
    {
      "data": {"name": "arrowTip"},
      "mark": {"type": "point", "shape": "M0,0L-0.277,-0.997L-0.737,-0.727Z", "size": 3600, "filled": true, "color": "#1a3dff", "opacity": 1, "strokeWidth": 0},
      "encoding": {}
    }
  ]
}
